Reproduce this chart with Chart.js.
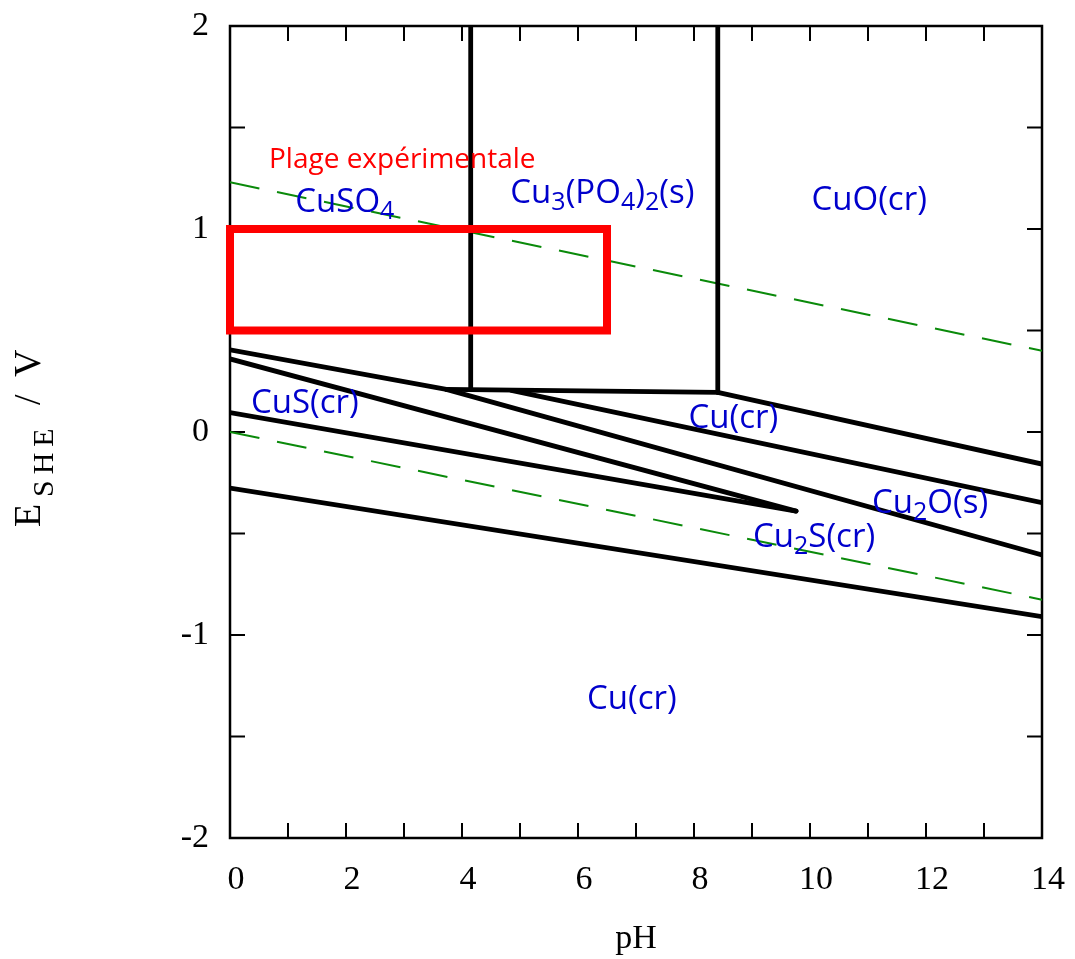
<!DOCTYPE html>
<html>
<head>
<meta charset="utf-8">
<title>Diagramme E-pH du cuivre</title>
<script src="https://cdn.jsdelivr.net/npm/chart.js@4"></script>
<style>
  html, body { margin: 0; padding: 0; background: #fff; }
  #pourbaix { display: block; }
</style>
</head>
<body>
<canvas id="pourbaix" width="1075" height="959"></canvas>
<script>
// Diagramme E-pH (Cu - S - P - H2O) avec la plage expérimentale

// limites de stabilité de l'eau (pH, E / V)
const eauHaut = [[0, 1.23], [14, 0.40]];
const eauBas = [[0, 0.0], [14, -0.826]];

// frontières entre domaines (pH, E / V)
const verticale1 = [[4.15, 2], [4.15, 0.215]];
const verticale2 = [[8.41, 2], [8.41, 0.195]];
const frontiere1 = [[0, 0.405], [3.73, 0.21]];
const palier = [[3.73, 0.21], [8.41, 0.195]];
const frontiere2 = [[8.41, 0.195], [14, -0.158]];
const frontiere3 = [[4.85, 0.205], [14, -0.348]];
const frontiere4 = [[3.73, 0.21], [14, -0.606]];
const frontiere5 = [[0, 0.36], [9.76, -0.39]];
const frontiere6 = [[0, 0.096], [9.76, -0.39]];
const frontiere7 = [[0, -0.276], [14, -0.91]];

// plage expérimentale (cadre rouge)
const plagePH = [0, 6.5];
const plageE = [0.5, 1.0];

// noms des domaines ( _x = indice ) et leur point d'ancrage
const especes = ['CuSO_4', 'Cu_3(PO_4)_2(s)', 'CuO(cr)', 'CuS(cr)', 'Cu(cr)', 'Cu_2O(s)', 'Cu_2S(cr)', 'Cu(cr)'];
const especesPH = [1.98, 6.42, 11.02, 1.29, 8.68, 12.07, 10.07, 6.93];
const especesE = [1.085, 1.128, 1.094, 0.094, 0.02, -0.40, -0.565, -1.365];

const plageTexte = 'Plage expérimentale';
const plageTextePH = 2.97;
const plageTexteE = 1.30;

const pts = arr => arr.map(p => ({ x: p[0], y: p[1] }));

const noir = '#000000';
const vert = '#0a8a0a';
const bleu = '#0000cc';

function trait(data) {
    return {
        data: pts(data),
        borderColor: noir,
        borderWidth: 4.8,
        borderCapStyle: 'round',
        order: 1
    };
}

function pointille(data) {
    return {
        data: pts(data),
        borderColor: vert,
        borderWidth: 2,
        borderDash: [30, 18],
        order: 2
    };
}

const cadrePlage = [
    [plagePH[0], plageE[0]], [plagePH[1], plageE[0]],
    [plagePH[1], plageE[1]], [plagePH[0], plageE[1]],
    [plagePH[0], plageE[0]]
];

// dessine une formule avec indices
function dessinerFormule(ctx, texte, cx, base, taille, couleur) {
    const morceaux = [];
    for (let i = 0; i < texte.length; i++) {
        if (texte[i] === '_') {
            morceaux.push({ t: texte[i + 1], sub: true });
            i++;
        } else if (morceaux.length && !morceaux[morceaux.length - 1].sub) {
            morceaux[morceaux.length - 1].t += texte[i];
        } else {
            morceaux.push({ t: texte[i], sub: false });
        }
    }
    const fNormal = taille + 'px "Open Sans"';
    const fIndice = Math.round(taille * 0.75) + 'px "Open Sans"';
    let largeur = 0;
    morceaux.forEach(m => {
        ctx.font = m.sub ? fIndice : fNormal;
        m.w = ctx.measureText(m.t).width;
        largeur += m.w;
    });
    let x = cx - largeur / 2;
    ctx.fillStyle = couleur;
    ctx.textAlign = 'left';
    ctx.textBaseline = 'alphabetic';
    morceaux.forEach(m => {
        ctx.font = m.sub ? fIndice : fNormal;
        ctx.fillText(m.t, x, base + (m.sub ? taille * 0.22 : 0));
        x += m.w;
    });
}

const cadrePlugin = {
    id: 'cadre',
    beforeDatasetsDraw(chart) {
        const { ctx, chartArea: a, scales: { x, y } } = chart;
        ctx.save();
        ctx.strokeStyle = noir;
        ctx.lineWidth = 2.5;
        ctx.strokeRect(a.left, a.top, a.right - a.left, a.bottom - a.top);
        ctx.lineWidth = 2;
        ctx.beginPath();
        x.ticks.forEach(t => {
            const px = x.getPixelForValue(t.value);
            ctx.moveTo(px, a.bottom); ctx.lineTo(px, a.bottom - 15);
            ctx.moveTo(px, a.top); ctx.lineTo(px, a.top + 15);
        });
        y.ticks.forEach(t => {
            const py = y.getPixelForValue(t.value);
            ctx.moveTo(a.left, py); ctx.lineTo(a.left + 15, py);
            ctx.moveTo(a.right, py); ctx.lineTo(a.right - 15, py);
        });
        ctx.stroke();
        ctx.restore();
    },
    afterDraw(chart) {
        const { ctx, scales: { x, y } } = chart;
        ctx.save();
        especes.forEach((nom, i) => {
            dessinerFormule(ctx, nom, x.getPixelForValue(especesPH[i]), y.getPixelForValue(especesE[i]), 33, bleu);
        });
        ctx.font = '28px "Open Sans"';
        ctx.fillStyle = '#ff0000';
        ctx.textAlign = 'center';
        ctx.textBaseline = 'alphabetic';
        ctx.fillText(plageTexte, x.getPixelForValue(plageTextePH), y.getPixelForValue(plageTexteE));

        // titre de l'axe vertical : E_SHE / V
        ctx.translate(40, 527);
        ctx.rotate(-Math.PI / 2);
        ctx.fillStyle = noir;
        ctx.textAlign = 'left';
        ctx.font = '38px "Liberation Serif"';
        ctx.fillText('E', 0, 0);
        ctx.font = '30px "Liberation Serif"';
        ctx.letterSpacing = '6px';
        ctx.fillText('SHE', 30, 13);
        ctx.letterSpacing = '0px';
        ctx.font = '38px "Liberation Serif"';
        ctx.fillText('/', 122, 0);
        ctx.fillText('V', 150, 0);
        ctx.restore();
    }
};

new Chart(document.getElementById('pourbaix'), {
    type: 'scatter',
    data: {
        datasets: [
            {
                data: pts(cadrePlage),
                borderColor: '#ff0000',
                borderWidth: 8,
                borderCapStyle: 'square',
                borderJoinStyle: 'miter',
                clip: false,
                order: 0
            },
            trait(verticale1),
            trait(verticale2),
            trait(frontiere1),
            trait(palier),
            trait(frontiere2),
            trait(frontiere3),
            trait(frontiere4),
            trait(frontiere5),
            trait(frontiere6),
            trait(frontiere7),
            pointille(eauHaut),
            pointille(eauBas)
        ]
    },
    options: {
        responsive: false,
        animation: false,
        devicePixelRatio: 1,
        showLine: true,
        elements: {
            point: { radius: 0, hoverRadius: 0 },
            line: { tension: 0, fill: false }
        },
        layout: { padding: { top: 26, right: 33, left: 0, bottom: 0 } },
        plugins: {
            legend: { display: false },
            tooltip: { enabled: false }
        },
        scales: {
            x: {
                type: 'linear',
                min: 0,
                max: 14,
                afterFit: s => {
                    s.height = 121;
                    s.paddingLeft = 0;
                    s.paddingRight = 0;
                },
                grid: { display: false, drawTicks: false },
                border: { display: false },
                ticks: {
                    stepSize: 1,
                    autoSkip: false,
                    maxRotation: 0,
                    minRotation: 0,
                    padding: 22,
                    labelOffset: 6,
                    color: noir,
                    font: { family: 'Liberation Serif', size: 34 },
                    callback: v => (v % 2 === 0 ? String(v) : '')
                },
                title: {
                    display: true,
                    text: 'pH',
                    color: noir,
                    font: { family: 'Liberation Serif', size: 34 },
                    padding: { top: 0, bottom: 0 }
                }
            },
            y: {
                type: 'linear',
                min: -2,
                max: 2,
                afterFit: s => {
                    s.width = 230;
                    s.paddingTop = 0;
                    s.paddingBottom = 0;
                },
                grid: { display: false, drawTicks: false },
                border: { display: false },
                ticks: {
                    stepSize: 0.5,
                    autoSkip: false,
                    padding: 21,
                    color: noir,
                    font: { family: 'Liberation Serif', size: 34 },
                    callback: v => (Number.isInteger(v) ? String(v) : '')
                }
            }
        }
    },
    plugins: [cadrePlugin]
});
</script>
</body>
</html>
